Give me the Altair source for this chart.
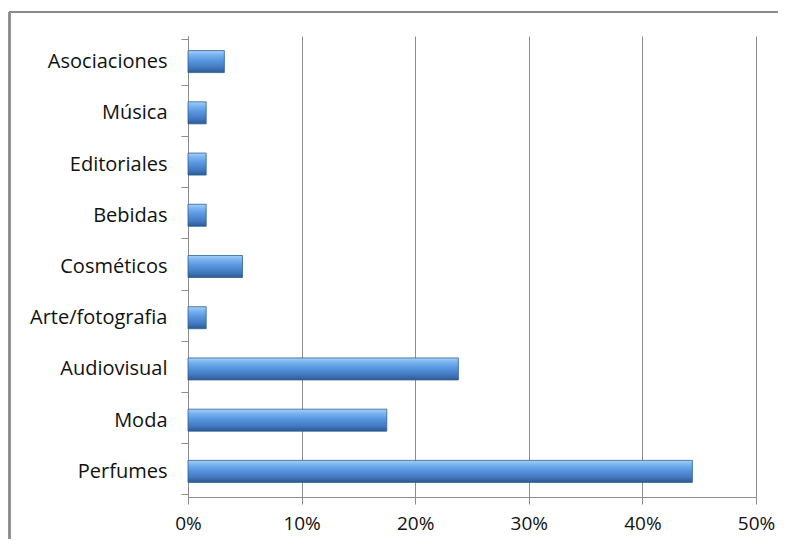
import altair as alt
import pandas as pd

categories = ["Asociaciones", "Música", "Editoriales", "Bebidas", "Cosméticos",
              "Arte/fotografia", "Audiovisual", "Moda", "Perfumes"]
values = [0.032, 0.016, 0.016, 0.016, 0.048, 0.016, 0.238, 0.175, 0.444]
x_ticks = [0, 0.1, 0.2, 0.3, 0.4, 0.5]

df = pd.DataFrame({"categoria": categories, "valor": values})

FONT = "Open Sans"

bars = alt.Chart(df).mark_bar(
    size=22,
    stroke="#2f5f96",
    strokeWidth=0.8,
    color=alt.Gradient(
        gradient="linear",
        stops=[
            alt.GradientStop(color="#a6d0f8", offset=0),
            alt.GradientStop(color="#78b2f0", offset=0.2),
            alt.GradientStop(color="#5797df", offset=0.45),
            alt.GradientStop(color="#447bc2", offset=0.75),
            alt.GradientStop(color="#2c5a94", offset=1),
        ],
        x1=0, x2=0, y1=0, y2=1,
    ),
).encode(
    x=alt.X("valor:Q",
            scale=alt.Scale(domain=[0, 0.5], nice=False),
            axis=alt.Axis(values=x_ticks, format=".0%", title=None,
                          grid=True, gridColor="#8c8c8c", gridWidth=1,
                          domainColor="#8c8c8c", tickColor="#8c8c8c",
                          tickSize=7, labelPadding=10, labelFlush=False,
                          labelFont=FONT, labelFontSize=19, labelColor="#111111")),
    y=alt.Y("categoria:N", sort=categories,
            axis=alt.Axis(title=None, tickBand="extent", tickSize=7,
                          domainColor="#8c8c8c", tickColor="#8c8c8c",
                          labelPadding=14, labelFont=FONT, labelFontSize=20,
                          labelColor="#111111")),
)

frame_top = alt.Chart(df).mark_rule(color="#8c8c8c", strokeWidth=1.5).encode(
    x=alt.value(-179), x2=alt.value(700), y=alt.value(-24))
frame_left = alt.Chart(df).mark_rule(color="#8c8c8c", strokeWidth=1.5).encode(
    x=alt.value(-178.5), y=alt.value(-24), y2=alt.value(600))

chart = alt.layer(frame_top, frame_left, bars).properties(
    width=568, height=461,
    autosize=alt.AutoSizeParams(type="none"),
    padding={"left": 180, "top": 28, "right": 22, "bottom": 42},
).configure_view(stroke=None)

chart.save("out.html", embed_options={"renderer": "svg", "actions": False})
